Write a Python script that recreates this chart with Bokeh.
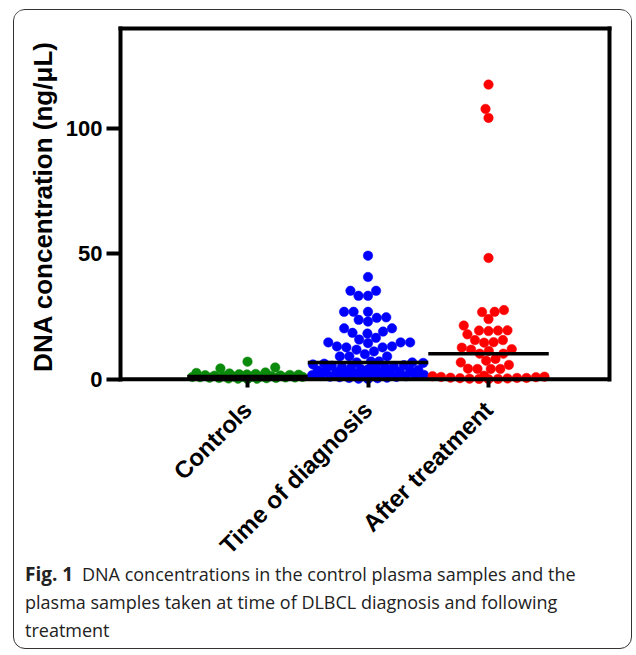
import math
import numpy as np
from bokeh.plotting import figure
from bokeh.layouts import column
from bokeh.models import Range1d, FixedTicker, LinearAxis, Span, ColumnDataSource
from bokeh.core.properties import value
from bokeh.embed import file_html
from bokeh.resources import INLINE

# ---------------- data ----------------
categories = ["Controls", "Time of diagnosis", "After treatment"]

controls = [0.1, 0.2, 0.2, 0.3, 0.4, 0.5, 0.5, 0.6, 0.7, 0.7, 0.8, 0.9, 0.9, 1.0, 1.0,
            1.1, 1.1, 1.2, 1.3, 1.4, 1.5, 1.6, 1.7, 1.8, 1.9, 2.0, 2.1, 2.3, 2.5, 2.7,
            4.3, 4.7, 7.0]

time_of_diagnosis = [0.1, 0.2, 0.4, 0.5, 0.6, 0.8, 0.9, 1.0, 1.2, 1.3, 1.5, 1.6, 1.7, 1.9,
                     2.0, 2.2, 2.4, 2.5, 2.7, 2.9, 3.0, 3.2, 3.4, 3.5, 3.7, 3.9, 4.1, 4.3,
                     4.5, 4.7, 4.9, 5.1, 5.4, 5.6, 5.9, 6.2,
                     6.5, 6.7, 6.7, 7.1, 7.1, 9.1, 9.1, 9.1, 10.0, 11.1, 11.8,
                     12.7, 12.7, 13.1, 13.1, 14.4, 14.7, 14.7, 14.7, 15.8, 16.5,
                     18.2, 18.5, 19.0, 20.3, 20.3, 23.0, 23.7, 24.5, 24.7,
                     26.9, 26.9, 26.9, 33.3, 33.3, 35.3, 35.3, 40.8, 49.3]

after_treatment = [0.0, 0.1, 0.1, 0.2, 0.3, 0.4, 0.5, 0.5, 0.6, 0.8, 0.9, 1.0, 1.2, 1.4,
                   4.1, 4.1, 4.1, 4.2, 5.7, 6.7, 7.4, 8.1, 10.2, 10.2,
                   11.3, 11.8, 12.0, 12.6, 14.6, 14.8, 15.6, 15.6, 17.9,
                   19.2, 19.4, 19.4, 19.5, 21.4, 24.0, 26.8, 26.9, 27.6,
                   48.4, 104.3, 107.9, 117.6]

series = [controls, time_of_diagnosis, after_treatment]
colors = ["#0a8a0a", "#0000ff", "#ff0000"]
y_ticks = [0, 50, 100]
y_top = 140

caption_bold = "Fig. 1"
caption_lines = ["DNA concentrations in the control plasma samples and the",
                 "plasma samples taken at time of DLBCL diagnosis and following",
                 "treatment"]

# ---------------- layout ----------------
W, H = 617, 564          # chart part
CAP_H = 94               # caption part
CAP_OVERLAP = 20
ML, MR, MT = 106, 22, 18
FH = 356
MB = H - MT - FH
FW = W - ML - MR
x0, x1 = -0.054, 4.004
px_per_y = 2.505
y0 = y_top - FH / px_per_y
px_per_x = FW / (x1 - x0)

DOT = 9.5
HALF_W = 56.0


def swarm_offsets(vals):
    """Beeswarm offsets (in pixels) for values, ascending order, kept near centre."""
    vals = np.asarray(vals, dtype=float)
    order = np.argsort(vals, kind="stable")
    placed = []
    offs = np.zeros(len(vals))
    for i in order:
        yp = vals[i] * px_per_y
        d = DOT
        chosen = None
        while chosen is None:
            cands = [0.0]
            for xo, yo in placed:
                dy = abs(yp - yo)
                if dy < d:
                    dx = math.sqrt(d * d - dy * dy)
                    cands += [xo + dx, xo - dx]
            cands.sort(key=lambda c: (round(abs(c), 6), c))
            for c in cands:
                if abs(c) > HALF_W:
                    continue
                if all((c - xo) ** 2 + (yp - yo) ** 2 >= d * d - 1e-6 for xo, yo in placed):
                    chosen = c
                    break
            d *= 0.9
        offs[i] = chosen
        placed.append((chosen, yp))
    return offs


p = figure(width=W, height=H, x_range=Range1d(x0, x1), y_range=Range1d(y0, y_top),
           output_backend="svg", toolbar_location=None,
           min_border_left=ML, min_border_right=MR, min_border_top=MT, min_border_bottom=MB)
p.xgrid.visible = False
p.ygrid.visible = False
p.outline_line_color = None
p.background_fill_color = "white"
p.border_fill_color = "white"

AX_FONT = "Liberation Sans"

# y axis (left side of frame)
ya = p.yaxis[0]
ya.ticker = FixedTicker(ticks=y_ticks)
ya.bounds = (0, y_top)
ya.axis_line_width = 4
ya.axis_line_cap = "square"
ya.major_tick_line_width = 4
ya.major_tick_in = 0
ya.major_tick_out = 14
ya.minor_tick_line_color = None
ya.major_label_standoff = 4
ya.major_label_text_font = AX_FONT
ya.major_label_text_font_style = "bold"
ya.major_label_text_font_size = "22px"
ya.major_label_text_color = "black"
ya.axis_label = "DNA concentration (ng/μL)"
ya.axis_label_text_font = AX_FONT
ya.axis_label_text_font_style = "bold"
ya.axis_label_text_font_size = "26px"
ya.axis_label_text_color = "black"
ya.axis_label_standoff = 5

# x axis (categories)
xa = p.xaxis[0]
xa.ticker = FixedTicker(ticks=[1, 2, 3])
xa.major_label_overrides = {1: categories[0], 2: categories[1], 3: categories[2]}
xa.axis_line_color = None
xa.major_tick_line_width = 4
xa.major_tick_in = 5
xa.major_tick_out = 3
xa.minor_tick_line_color = None
xa.major_label_orientation = math.pi / 4
xa.major_label_standoff = 18
xa.major_label_text_font = AX_FONT
xa.major_label_text_font_style = "bold"
xa.major_label_text_font_size = "24px"
xa.major_label_text_color = "black"

# frame: top and right
top_ax = LinearAxis(ticker=FixedTicker(ticks=[]), axis_line_width=4, axis_line_cap="square",
                    major_tick_line_color=None, minor_tick_line_color=None)
right_ax = LinearAxis(ticker=FixedTicker(ticks=[]), axis_line_width=4, axis_line_cap="square",
                      major_tick_line_color=None, minor_tick_line_color=None, bounds=(0, y_top))
p.add_layout(top_ax, "above")
p.add_layout(right_ax, "right")

# points
for k, (vals, col) in enumerate(zip(series, colors)):
    offs = swarm_offsets(vals)
    src = ColumnDataSource(dict(x=(k + 1) + offs / px_per_x, y=vals))
    p.scatter(x="x", y="y", source=src, size=DOT, marker="circle",
              fill_color=col, line_color=col, line_width=0.5)

# medians
med_x0, med_x1, med_y = [], [], []
for k, vals in enumerate(series):
    m = float(np.median(vals))
    med_x0.append(k + 1 - 0.5)
    med_x1.append(k + 1 + 0.5)
    med_y.append(m)
p.segment(x0=med_x0, y0=med_y, x1=med_x1, y1=med_y, line_color="black", line_width=3.5)

# zero line (bottom side of frame)
p.add_layout(Span(location=0, dimension="width", line_color="black", line_width=4))

# ---------------- caption ----------------
cap = figure(width=W, height=CAP_H, x_range=Range1d(0, W), y_range=Range1d(CAP_H, 0),
             output_backend="svg", toolbar_location=None,
             x_axis_location=None, y_axis_location=None,
             min_border_left=0, min_border_right=0, min_border_top=0, min_border_bottom=0)
cap.xgrid.visible = False
cap.ygrid.visible = False
cap.outline_line_color = None
cap.background_fill_color = None
cap.border_fill_color = None
cap.margin = (-CAP_OVERLAP, 0, 0, 0)

for f in (p, cap):
    try:
        f.frame_align = False
    except Exception:
        pass

CAP_FONT = "Open Sans"
cap_x = 10.5
cap_base = [19.5, 47.5, 75.5]
bold_w = 57
cap.text(x=[cap_x], y=[cap_base[0]], text=[caption_bold], text_font=value(CAP_FONT),
         text_font_style="bold", text_font_size=value("19px"), text_color="#222222",
         text_baseline="alphabetic", text_align="left")
cap.text(x=[cap_x + bold_w, cap_x, cap_x], y=cap_base, text=caption_lines,
         text_font=value(CAP_FONT), text_font_size=value("18px"), text_color="#222222",
         text_baseline="alphabetic", text_align="left")

layout = column(p, cap, margin=(9, 3, 3, 13),
                styles={"border": "1.5px solid #333333", "border-radius": "12px",
                        "overflow": "hidden"})

open("out.html", "w").write(file_html(layout, INLINE))
